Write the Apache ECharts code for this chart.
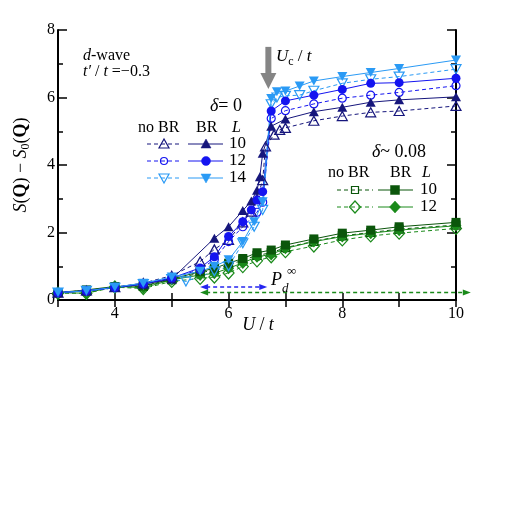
<!DOCTYPE html>
<html>
<head>
<meta charset="utf-8">
<script src="https://cdn.jsdelivr.net/npm/echarts@6/dist/echarts.min.js"></script>
<style>
  html, body { margin: 0; padding: 0; background: #fff; }
  #chart { width: 518px; height: 518px; }
</style>
</head>
<body>
<div id="chart"></div>
<script>
// ---- δ = 0 ----
// L = 10
const uL10BR   = [3, 3.5, 4, 4.5, 5, 5.75, 6, 6.25, 6.4, 6.5, 6.55, 6.6, 6.75, 7, 7.5, 8, 8.5, 9, 10];
const vL10BR   = [0.22, 0.27, 0.37, 0.47, 0.62, 1.83, 2.17, 2.65, 2.93, 3.25, 3.65, 4.35, 5.15, 5.36, 5.58, 5.71, 5.86, 5.93, 6.02];
const uL10noBR = [3, 3.5, 4, 4.5, 5, 5.5, 5.75, 6, 6.25, 6.4, 6.5, 6.6, 6.65, 6.8, 6.9, 7, 7.5, 8, 8.5, 9, 10];
const vL10noBR = [0.22, 0.28, 0.38, 0.5, 0.72, 1.14, 1.5, 1.78, 2.3, 2.62, 3.0, 3.55, 4.55, 4.9, 5.04, 5.1, 5.31, 5.45, 5.56, 5.6, 5.75];
// L = 12
const uL12BR   = [3, 3.5, 4, 4.5, 5, 5.5, 5.75, 6, 6.25, 6.4, 6.5, 6.6, 6.75, 7, 7.5, 8, 8.5, 9, 10];
const vL12BR   = [0.22, 0.27, 0.37, 0.48, 0.65, 0.95, 1.28, 1.88, 2.32, 2.67, 2.96, 3.21, 5.6, 5.9, 6.07, 6.24, 6.42, 6.44, 6.57];
const uL12noBR = [3, 3.5, 4, 4.5, 5, 5.5, 5.75, 6, 6.25, 6.5, 6.6, 6.75, 7, 7.5, 8, 8.5, 9, 10];
const vL12noBR = [0.22, 0.27, 0.37, 0.48, 0.65, 0.9, 1.2, 1.73, 2.17, 2.6, 2.9, 5.38, 5.61, 5.81, 5.98, 6.07, 6.15, 6.35];
// L = 14
const uL14BR   = [3, 3.5, 4, 4.5, 5, 5.5, 5.75, 6, 6.25, 6.45, 6.6, 6.75, 6.85, 7, 7.25, 7.5, 8, 8.5, 9, 10];
const vL14BR   = [0.22, 0.27, 0.38, 0.5, 0.68, 0.85, 1.0, 1.19, 1.73, 2.32, 2.91, 5.97, 6.17, 6.19, 6.34, 6.49, 6.62, 6.74, 6.86, 7.11];
const uL14noBR = [3, 3.5, 4, 4.5, 5, 5.25, 5.75, 6, 6.25, 6.45, 6.6, 6.75, 6.85, 7, 7.25, 7.5, 8, 8.5, 9, 10];
const vL14noBR = [0.22, 0.27, 0.36, 0.47, 0.62, 0.55, 0.85, 1.0, 1.68, 2.17, 2.67, 5.8, 6.0, 6.05, 6.07, 6.2, 6.42, 6.54, 6.62, 6.84];

// ---- δ ~ 0.08 ----
const uDop     = [3, 3.5, 4, 4.5, 5, 5.5, 5.75, 6, 6.25, 6.5, 6.75, 7, 7.5, 8, 8.5, 9, 10];
const vD10BR   = [0.22, 0.3, 0.4, 0.42, 0.62, 0.84, 0.94, 1.09, 1.23, 1.4, 1.48, 1.63, 1.81, 1.98, 2.07, 2.17, 2.3];
const vD10noBR = [0.22, 0.28, 0.38, 0.4, 0.6, 0.8, 0.9, 1.04, 1.18, 1.32, 1.4, 1.55, 1.74, 1.9, 2.0, 2.1, 2.22];
const vD12BR   = [0.22, 0.2, 0.41, 0.36, 0.6, 0.74, 0.79, 0.94, 1.1, 1.28, 1.35, 1.53, 1.73, 1.88, 1.98, 2.07, 2.2];
const vD12noBR = [0.2, 0.2, 0.38, 0.34, 0.55, 0.64, 0.68, 0.8, 0.99, 1.16, 1.28, 1.43, 1.6, 1.78, 1.9, 1.98, 2.12];

// annotations (data coords)
const ucArrow = [[6.7, 7.5], [6.7, 6.25]];
const blueArrow = [[5.5, 0.385], [6.68, 0.385]];
const greenArrow = [[5.5, 0.22], [10.26, 0.22]];

const NAVY = '#16167c', BLUE = '#1414f0', LBLUE = '#2a9af5';
const DGREEN = '#0b560b', GREEN = '#1a8a1a';
const FONT = 'Liberation Serif';
const DASH = [4, 3];

function pairs(u, v) { return u.map((x, i) => [x, v[i]]); }

function mk(u, v, color, symbol, size, open, dashed, rotate) {
  return {
    type: 'line',
    data: pairs(u, v),
    symbol: symbol,
    symbolSize: size,
    symbolRotate: rotate || 0,
    showAllSymbol: true,
    lineStyle: { color: color, width: 1, type: dashed ? DASH : 'solid' },
    itemStyle: open
      ? { color: 'rgba(255,255,255,0)', borderColor: color, borderWidth: 1.2 }
      : { color: color, borderColor: color, borderWidth: 0 },
    emphasis: { disabled: true },
    animation: false,
    z: 3
  };
}

const chart = echarts.init(document.getElementById('chart'));

const axisLine = { show: true, lineStyle: { color: '#000', width: 2 } };
const baseLabel = { color: '#000', fontFamily: FONT, fontSize: 16 };

chart.setOption({
  backgroundColor: '#fff',
  animation: false,
  grid: { left: 58, right: 62, top: 30, bottom: 218 },
  xAxis: [
    {
      type: 'value', min: 3, max: 10, interval: 1, position: 'bottom',
      axisLine: axisLine,
      axisTick: { inside: true, length: 7, lineStyle: { color: '#000', width: 1.5 } },
      axisLabel: Object.assign({ margin: 6, formatter: v => (v % 2 === 0 ? String(v) : '') }, baseLabel),
      splitLine: { show: false }
    },
    {
      type: 'value', min: 3, max: 10, interval: 1, position: 'top',
      axisLine: axisLine,
      axisTick: { inside: true, length: 7, lineStyle: { color: '#000', width: 1.5 } },
      axisLabel: { show: false },
      splitLine: { show: false }
    }
  ],
  yAxis: [
    {
      type: 'value', min: 0, max: 8, interval: 2, position: 'left',
      axisLine: axisLine,
      axisTick: { inside: true, length: 9, lineStyle: { color: '#000', width: 1.5 } },
      minorTick: { show: true, splitNumber: 2, length: 5, lineStyle: { color: '#000', width: 1.5 } },
      axisLabel: Object.assign({ margin: 3 }, baseLabel),
      splitLine: { show: false }
    },
    {
      type: 'value', min: 0, max: 8, interval: 2, position: 'right',
      axisLine: axisLine,
      axisTick: { inside: true, length: 9, lineStyle: { color: '#000', width: 1.5 } },
      minorTick: { show: true, splitNumber: 2, length: 5, lineStyle: { color: '#000', width: 1.5 } },
      axisLabel: { show: false },
      splitLine: { show: false }
    }
  ],
  series: [
    mk(uDop, vD12noBR, GREEN, 'diamond', [11, 12], true, true),
    mk(uDop, vD10noBR, DGREEN, 'rect', 8, true, true),
    mk(uDop, vD12BR, GREEN, 'diamond', [11, 12], false, false),
    mk(uDop, vD10BR, DGREEN, 'rect', 9, false, false),
    mk(uL10noBR, vL10noBR, NAVY, 'triangle', [10, 9], true, true),
    mk(uL12noBR, vL12noBR, BLUE, 'circle', 8, true, true),
    mk(uL14noBR, vL14noBR, LBLUE, 'triangle', [10, 9], true, true, 180),
    mk(uL10BR, vL10BR, NAVY, 'triangle', [10, 9], false, false),
    mk(uL12BR, vL12BR, BLUE, 'circle', 9, false, false),
    mk(uL14BR, vL14BR, LBLUE, 'triangle', [10, 9], false, false, 180)
  ]
});

// ---- overlay: labels, legend, arrows ----
function txt(x, y, text, size, extra) {
  return Object.assign({
    type: 'text', silent: true, z: 10,
    style: Object.assign({ x: x, y: y, text: text, fontFamily: FONT, fontSize: size, fill: '#000', align: 'left', verticalAlign: 'middle' }, (extra && extra.style) || {})
  }, extra && extra.el || {});
}
function rs(size, italic, bold, extra) {
  return Object.assign({ fontFamily: FONT, fontSize: size, fontStyle: italic ? 'italic' : 'normal', fontWeight: bold ? 'bold' : 'normal', fill: '#000' }, extra || {});
}
function marker(kind, cx, cy, color, open) {
  const style = open ? { fill: 'none', stroke: color, lineWidth: 1.2 } : { fill: color, stroke: color, lineWidth: 0.5 };
  let shape, type = 'polygon';
  if (kind === 'up') shape = { points: [[cx, cy - 5], [cx - 5, cy + 4], [cx + 5, cy + 4]] };
  else if (kind === 'down') shape = { points: [[cx, cy + 5], [cx - 5, cy - 4], [cx + 5, cy - 4]] };
  else if (kind === 'diamond') shape = { points: [[cx, cy - 6], [cx + 5.5, cy], [cx, cy + 6], [cx - 5.5, cy]] };
  else if (kind === 'rect') { type = 'rect'; shape = open ? { x: cx - 3.5, y: cy - 3.5, width: 7, height: 7 } : { x: cx - 4.5, y: cy - 4.5, width: 9, height: 9 }; }
  else { type = 'circle'; shape = { cx: cx, cy: cy, r: open ? 3.5 : 4.5 }; }
  return { type: type, shape: shape, style: style, silent: true, z: 11 };
}
function seg(x1, y1, x2, y2, color, dashed, w) {
  return { type: 'line', shape: { x1: x1, y1: y1, x2: x2, y2: y2 }, style: { stroke: color, lineWidth: w || 1, lineDash: dashed ? DASH : null }, silent: true, z: 10 };
}
function legendRow(y, color, kind, label, xs) {
  return [
    seg(xs[0], y, xs[1], y, color, true),
    marker(kind[0], xs[2], y, color, true),
    seg(xs[3], y, xs[4], y, color, false),
    marker(kind[1], xs[5], y, color, false),
    txt(xs[6], y, label, 17)
  ];
}

function arrowHead(tip, dir, color, len, half) {
  // dir: +1 pointing right, -1 pointing left (horizontal)
  return { type: 'polygon', shape: { points: [[tip[0], tip[1]], [tip[0] - dir * len, tip[1] - half], [tip[0] - dir * len, tip[1] + half]] }, style: { fill: color }, silent: true, z: 10 };
}

const g = [];
const px = p => chart.convertToPixel({ xAxisIndex: 0, yAxisIndex: 0 }, p);

// axis titles
g.push(txt(21, 165, '{i|S}{n|(}{b|Q}{n|) − }{i|S}{s|0}{n|(}{b|Q}{n|)}', 17, {
  style: { align: 'center', rich: { i: rs(18, true, false), n: rs(18, false, false), b: rs(18, false, true), s: rs(12, false, false, { verticalAlign: 'bottom', lineHeight: 22 }) } },
  el: { rotation: Math.PI / 2, x: 0, y: 0, originX: 21, originY: 165 }
}));
g.push(txt(258, 325, '{i|U} {n|/} {i|t}', 17, { style: { align: 'center', rich: { i: rs(18, true, false), n: rs(18, false, false) } } }));

// model text
g.push(txt(83, 56, '{i|d}{n|-wave}', 16, { style: { rich: { i: rs(16, true, false), n: rs(16, false, false) } } }));
g.push(txt(83, 72, '{i|t′} {n|/} {i|t} {n|=−0.3}', 16, { style: { rich: { i: rs(16, true, false), n: rs(16, false, false) } } }));

// δ = 0 legend
g.push(txt(210, 106, '{i|δ}{n|= 0}', 17, { style: { rich: { i: rs(18, true, false), n: rs(18, false, false) } } }));
g.push(txt(138, 128, 'no BR', 16));
g.push(txt(196, 128, 'BR', 16));
g.push(txt(232, 128, 'L', 16, { style: { fontStyle: 'italic' } }));
const xs0 = [147, 181, 164, 188, 223, 206, 229];
g.push(...legendRow(144, NAVY, ['up', 'up'], '10', xs0));
g.push(...legendRow(161, BLUE, ['circle', 'circle'], '12', xs0));
g.push(...legendRow(178, LBLUE, ['down', 'down'], '14', xs0));

// δ ~ 0.08 legend
g.push(txt(372, 152, '{i|δ}{n|~ 0.08}', 17, { style: { rich: { i: rs(18, true, false), n: rs(18, false, false) } } }));
g.push(txt(328, 173, 'no BR', 16));
g.push(txt(390, 173, 'BR', 16));
g.push(txt(422, 173, 'L', 16, { style: { fontStyle: 'italic' } }));
const xs1 = [337, 373, 355, 378, 413, 395, 420];
g.push(...legendRow(190, DGREEN, ['rect', 'rect'], '10', xs1));
g.push(...legendRow(207, GREEN, ['diamond', 'diamond'], '12', xs1));

// U_c arrow
const a0 = px(ucArrow[0]), a1 = px(ucArrow[1]);
g.push(seg(a0[0], a0[1], a1[0], a1[1] - 14, '#858585', false, 6));
g.push({ type: 'polygon', shape: { points: [[a1[0], a1[1]], [a1[0] - 8, a1[1] - 16], [a1[0] + 8, a1[1] - 16]] }, style: { fill: '#858585' }, silent: true, z: 10 });
g.push(txt(276, 57, '{i|U}{s|c} {n|/} {i|t}', 17, { style: { rich: { i: rs(17, true, false), n: rs(17, false, false), s: rs(12, false, false, { verticalAlign: 'bottom', lineHeight: 22 }) } } }));

// P_d range arrows
const b0 = px(blueArrow[0]), b1 = px(blueArrow[1]);
g.push(seg(b0[0] + 6, b0[1], b1[0] - 6, b1[1], '#2525f0', true, 1.5));
g.push(arrowHead(b0, -1, '#2525f0', 8, 3));
g.push(arrowHead(b1, 1, '#2525f0', 8, 3));
const c0 = px(greenArrow[0]), c1 = px(greenArrow[1]);
g.push(seg(c0[0] + 6, c0[1], c1[0] - 6, c1[1], GREEN, true, 1.5));
g.push(arrowHead(c0, -1, GREEN, 8, 3));
g.push(arrowHead(c1, 1, GREEN, 8, 3));
g.push(txt(271, 280, 'P', 18, { style: { fontStyle: 'italic' } }));
g.push(txt(282, 289, 'd', 13, { style: { fontStyle: 'italic' } }));
g.push(txt(287, 272, '∞', 13));

chart.setOption({ graphic: { elements: g } });
</script>
</body>
</html>
